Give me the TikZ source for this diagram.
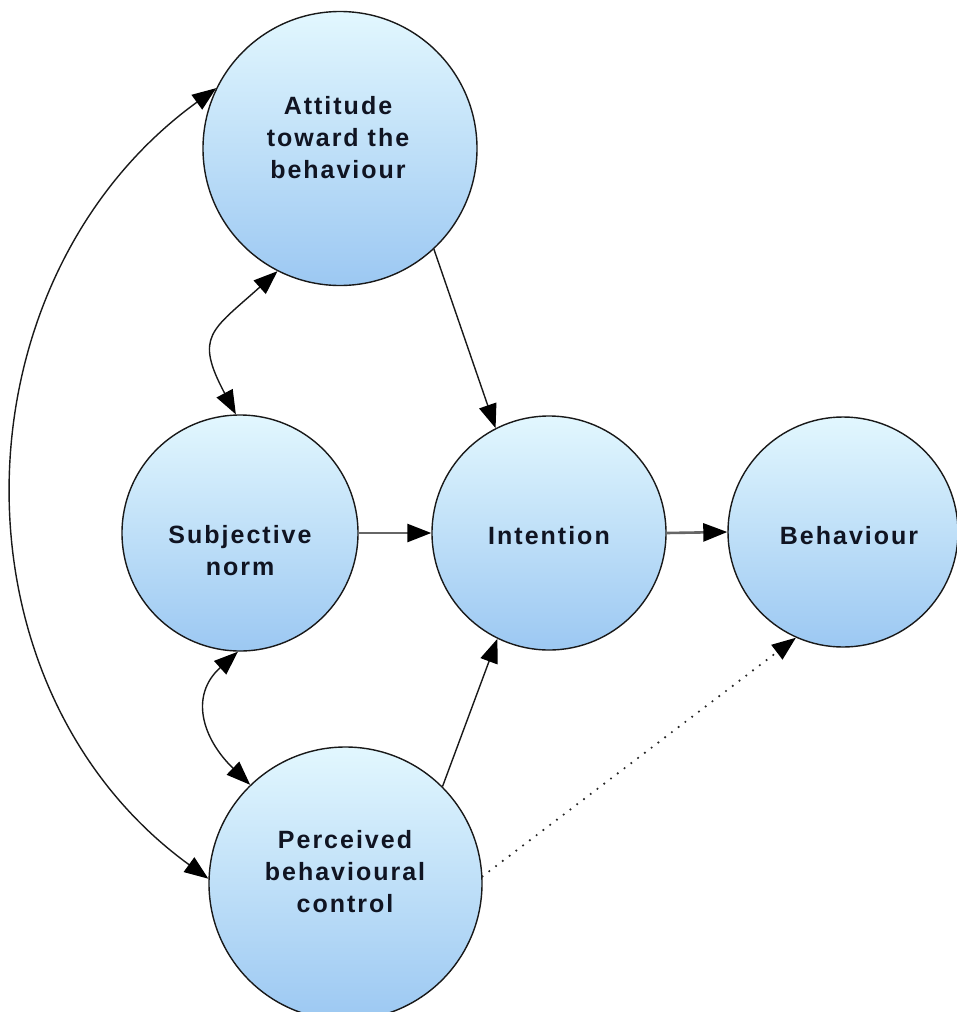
\documentclass[tikz,border=0pt]{standalone}
\usepackage{fontspec}
\newfontfamily\lblfont[LetterSpace=8]{Liberation Sans}
\usetikzlibrary{arrows.meta}
\definecolor{ballTop}{RGB}{226,247,254}
\definecolor{ballBot}{RGB}{156,200,242}
\definecolor{ink}{RGB}{16,20,34}
\begin{document}
\begin{tikzpicture}[x=1pt,y=1pt,
  ball/.style={circle, draw=black!90, line width=1.4pt, top color=ballTop, bottom color=ballBot, inner sep=0pt},
  lbl/.style={font=\lblfont\bfseries\fontsize{25}{32}\selectfont, text=ink, align=center},
  link/.style={draw=black!90, line width=1.4pt},
  flow/.style={draw=black!60, line width=2.6pt},
  dotline/.style={draw=black!85, line width=2.4pt, dash pattern=on 0pt off 8.5pt, line cap=round},
  >={Triangle[length=24pt,width=18pt,color=black]}]
\useasboundingbox (0,0) rectangle (957,-1012);
\fill[white] (0,0) rectangle (957,-1012);
\clip (0,0) rectangle (957,-1012);

% the five constructs
\node[ball, minimum size=274pt] (att) at (340,-148.5) {};
\node[ball, minimum size=236pt] (sub) at (240,-533) {};
\node[ball, minimum size=234pt] (int) at (549,-533) {};
\node[ball, minimum size=230pt] (beh) at (843,-532) {};
\node[ball, minimum size=273pt] (per) at (345.5,-883.5) {};

\node[lbl] (attT) at (338,-137.5) {Attitude\\toward the\\behaviour};
\node[lbl] (subT) at (240,-551) {Subjective\\norm};
\node[lbl] (intT) at (549,-536) {Intention};
\node[lbl] (behT) at (849,-535.5) {Behaviour};
\node[lbl] (perT) at (345,-872) {Perceived\\behavioural\\control};

% directed influences
\draw[link,->] (att.-47) -- (int.117);
\draw[link,->] (per.45.6) -- (int.-116);
\draw[dotline,->] (per.3.7) -- (beh.-114);
\draw[flow,->] (sub.east) -- (int.west);
\draw[flow,->] (int.east) -- (beh.west);

% correlations between the antecedents
\draw[link,<->] (sub.92) .. controls +(118:89) and +(222:89) .. (att.-117);
\draw[link,<->] (sub.-91) .. controls +(222:66) and +(136:66) .. (per.134);
\draw[link,<->] (att.154) .. controls +(216:327) and +(144:327) .. (per.178);
\end{tikzpicture}
\end{document}
